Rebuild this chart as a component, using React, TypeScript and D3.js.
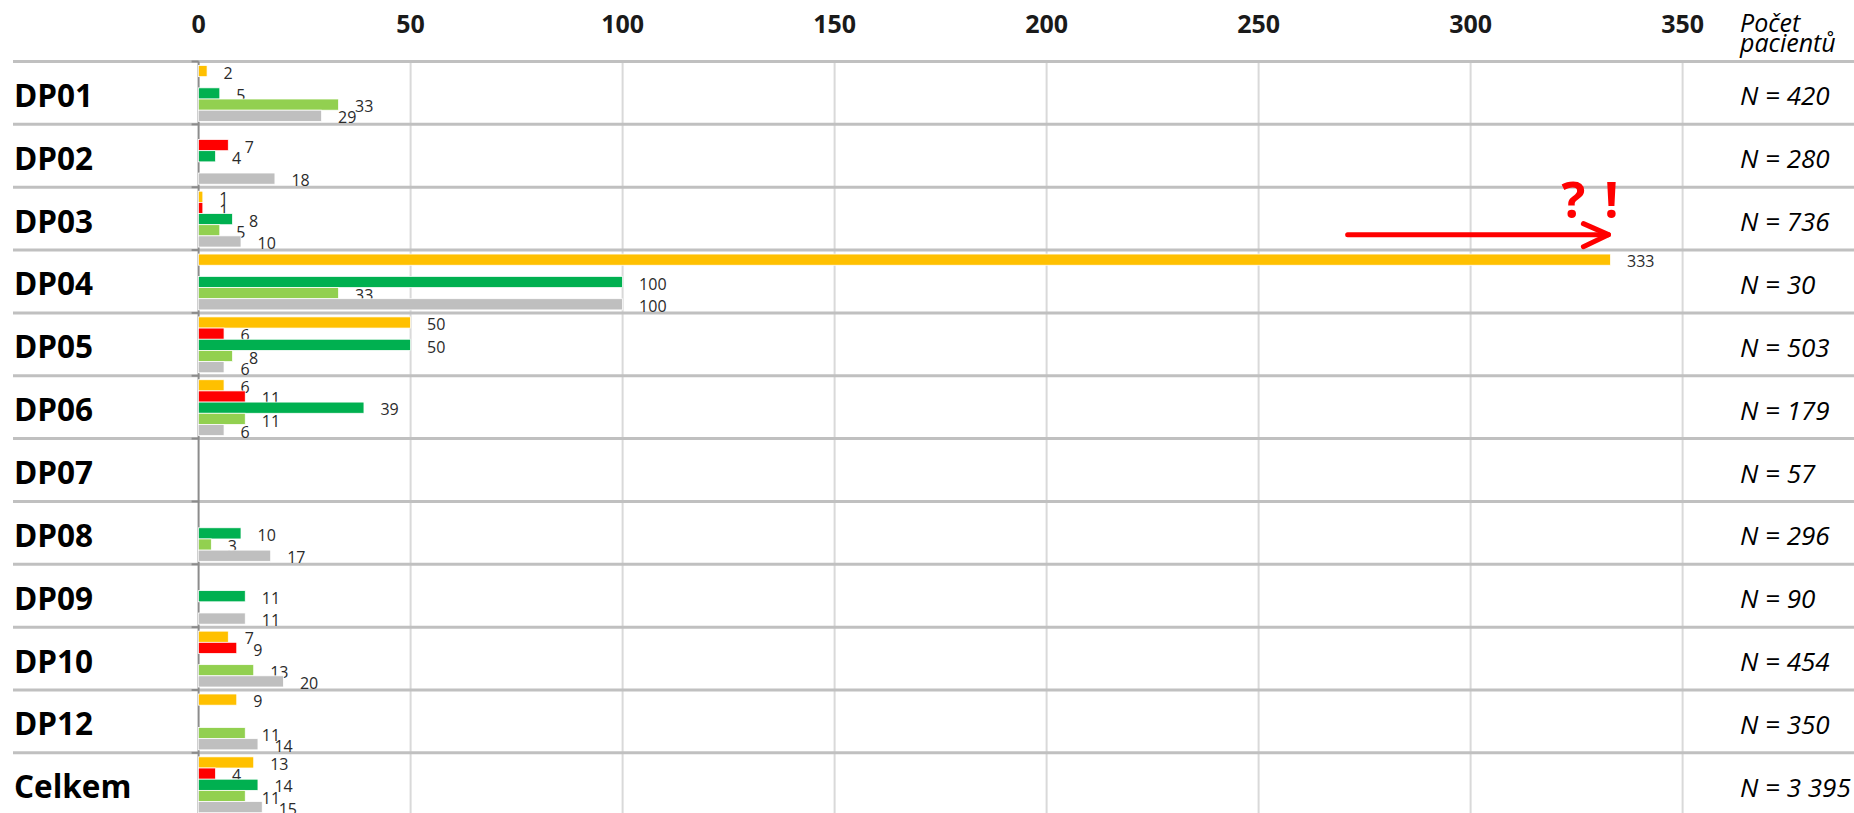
import React from 'react';
import * as d3 from 'd3';

const categories = ['DP01', 'DP02', 'DP03', 'DP04', 'DP05', 'DP06', 'DP07', 'DP08', 'DP09', 'DP10', 'DP12', 'Celkem'];
const yellowValues = [2, null, 1, 333, 50, 6, null, null, null, 7, 9, 13];
const redValues = [null, 7, 1, null, 6, 11, null, null, null, 9, null, 4];
const darkGreenValues = [5, 4, 8, 100, 50, 39, null, 10, 11, null, null, 14];
const lightGreenValues = [33, null, 5, 33, 8, 11, null, 3, null, 13, 11, 11];
const grayValues = [29, 18, 10, 100, 6, 6, null, 17, 11, 20, 14, 15];
const patientCounts = ['420', '280', '736', '30', '503', '179', '57', '296', '90', '454', '350', '3 395'];
const xTicks = [0, 50, 100, 150, 200, 250, 300, 350];

const seriesKeys = ['yellow', 'red', 'darkGreen', 'lightGreen', 'gray'];
const seriesValues: (number | null)[][] = [yellowValues, redValues, darkGreenValues, lightGreenValues, grayValues];
const seriesColors = ['#FFC000', '#FF0000', '#00B050', '#92D050', '#BFBFBF'];

const W = 1854;
const H = 813;
const FONT = '"Open Sans", "Liberation Sans", sans-serif';

export default function App() {
  const x = d3.scaleLinear().domain([0, 350]).range([198.6, 1682.6]);
  const rowH = 62.85;
  const top = 61.5;
  const y = d3.scaleBand<string>().domain(categories).range([top, top + rowH * categories.length]).padding(0);
  const sub = d3.scaleBand<string>().domain(seriesKeys).range([4, rowH - 3]).padding(0);
  const bw = sub.bandwidth();

  const boundaries = categories.map((c) => y(c) as number);

  return (
    <svg width={W} height={H} style={{ position: 'absolute', left: 0, top: 0, background: '#fff' }}>
      <rect x={0} y={0} width={W} height={H} fill="#fff" />
      {xTicks.slice(1).map((t) => (
        <line key={'g' + t} x1={x(t)} x2={x(t)} y1={top} y2={H} stroke="#D9D9D9" strokeWidth={2} />
      ))}
      {boundaries.map((b, i) => (
        <line key={'h' + i} x1={13} x2={W} y1={b} y2={b} stroke="#C0C0C0" strokeWidth={3} />
      ))}
      <line x1={x(0)} x2={x(0)} y1={top} y2={H} stroke="#8C8C8C" strokeWidth={2} />
      {boundaries.map((b, i) => (
        <line key={'t' + i} x1={x(0) - 7} x2={x(0)} y1={b} y2={b} stroke="#8C8C8C" strokeWidth={2} />
      ))}
      {xTicks.map((t) => (
        <text key={'l' + t} x={x(t)} y={33} textAnchor="middle" fontFamily={FONT} fontWeight="bold" fontSize={25} fill="#1a1a1a">
          {t}
        </text>
      ))}
      <text x={1740} y={32} fontFamily={FONT} fontStyle="italic" fontSize={25} fill="#000">Počet</text>
      <text x={1740} y={52} fontFamily={FONT} fontStyle="italic" fontSize={25} fill="#000">pacientů</text>
      {categories.map((c, ci) => {
        const y0 = y(c) as number;
        const cy = y0 + rowH / 2;
        return (
          <g key={c}>
            <text x={14} y={cy + 14} fontFamily={FONT} fontWeight="bold" fontSize={31.5} fill="#000">{c}</text>
            <text x={1740} y={cy + 12.5} fontFamily={FONT} fontStyle="italic" fontSize={26} fill="#000">
              {'N = ' + patientCounts[ci]}
            </text>
            {seriesKeys.map((k, si) => {
              const v = seriesValues[si][ci];
              if (v == null) return null;
              const by = y0 + (sub(k) as number);
              return (
                <g key={k}>
                  <rect x={x(0)} y={by} width={x(v) - x(0)} height={bw} fill={seriesColors[si]} stroke="#fff" strokeWidth={0.75} />
                  <text x={x(v) + 16.5} y={by + bw / 2 + 7.7} fontFamily={FONT} fontSize={16} fill="#2b2b2b">{v}</text>
                </g>
              );
            })}
          </g>
        );
      })}
      {(() => {
        const ay = (y('DP03') as number) + rowH * 0.755;
        const x1 = x(271);
        const x2 = x(332.5);
        return (
          <g>
            <line x1={x1} x2={x2} y1={ay} y2={ay} stroke="#FF0000" strokeWidth={5} strokeLinecap="round" />
            <polyline points={`${x2 - 25},${ay - 11} ${x2},${ay} ${x2 - 25},${ay + 12}`} fill="none" stroke="#FF0000" strokeWidth={5} strokeLinecap="round" strokeLinejoin="round" />
            <text x={x2 - 35} y={ay - 17} textAnchor="middle" fontFamily={FONT} fontWeight="bold" fontSize={50} fill="#FF0000">?</text>
            <text x={x2 + 3} y={ay - 17} textAnchor="middle" fontFamily={FONT} fontWeight="bold" fontSize={50} fill="#FF0000">!</text>
          </g>
        );
      })()}
    </svg>
  );
}
